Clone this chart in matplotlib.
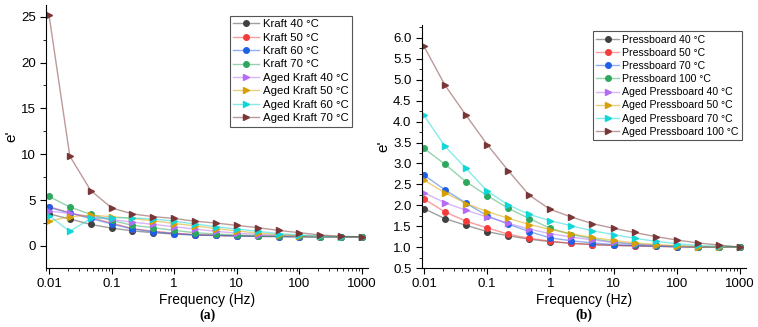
import matplotlib
matplotlib.use("Agg")
import matplotlib.pyplot as plt
from matplotlib.colors import to_rgba
from matplotlib.ticker import (MultipleLocator, LogLocator, NullFormatter, FixedLocator,
                               FixedFormatter, FormatStrFormatter)
import numpy as np

plt.rcParams.update({"font.family": ["Liberation Sans", "DejaVu Sans"], "font.size": 9})

freq = [0.01, 0.0215, 0.0464, 0.1, 0.215, 0.464, 1, 2.15, 4.64, 10, 21.5, 46.4, 100, 215, 464, 1000]

# panel (a): kraft paper
kraft_labels = ["Kraft 40 °C", "Kraft 50 °C", "Kraft 60 °C", "Kraft 70 °C",
                "Aged Kraft 40 °C", "Aged Kraft 50 °C", "Aged Kraft 60 °C", "Aged Kraft 70 °C"]
kraft_40 = [3.5, 2.95, 2.35, 1.95, 1.65, 1.45, 1.3, 1.2, 1.15, 1.1, 1.05, 1.05, 1.0, 1.0, 1.0, 1.0]
kraft_50 = [4.3, 3.6, 3.1, 2.5, 1.9, 1.6, 1.4, 1.25, 1.15, 1.1, 1.05, 1.03, 1.02, 1.0, 1.0, 1.0]
kraft_60 = [4.2, 3.6, 3.0, 2.4, 1.85, 1.55, 1.35, 1.2, 1.15, 1.1, 1.05, 1.03, 1.02, 1.0, 1.0, 1.0]
kraft_70 = [5.4, 4.25, 3.45, 2.8, 2.25, 2.0, 1.7, 1.45, 1.3, 1.2, 1.1, 1.05, 1.05, 1.0, 1.0, 1.0]
aged_kraft_40 = [3.8, 3.55, 3.2, 2.9, 2.6, 2.35, 2.1, 1.85, 1.6, 1.4, 1.25, 1.15, 1.1, 1.05, 1.0, 1.0]
aged_kraft_50 = [2.7, 3.2, 3.35, 3.2, 3.0, 2.75, 2.45, 2.2, 1.9, 1.65, 1.4, 1.25, 1.12, 1.05, 1.0, 1.0]
aged_kraft_60 = [3.3, 1.6, 3.0, 3.1, 3.05, 2.95, 2.7, 2.4, 2.1, 1.85, 1.6, 1.35, 1.2, 1.08, 1.02, 1.0]
aged_kraft_70 = [25.2, 9.8, 6.05, 4.15, 3.5, 3.2, 3.0, 2.7, 2.5, 2.25, 2.0, 1.7, 1.45, 1.2, 1.05, 1.0]

# panel (b): pressboard
pb_labels = ["Pressboard 40 °C", "Pressboard 50 °C", "Pressboard 70 °C", "Pressboard 100 °C",
             "Aged Pressboard 40 °C", "Aged Pressboard 50 °C", "Aged Pressboard 70 °C", "Aged Pressboard 100 °C"]
pb_40 = [1.92, 1.68, 1.52, 1.37, 1.27, 1.19, 1.13, 1.09, 1.06, 1.04, 1.03, 1.02, 1.01, 1.0, 1.0, 1.0]
pb_50 = [2.15, 1.84, 1.62, 1.46, 1.31, 1.21, 1.14, 1.09, 1.06, 1.04, 1.03, 1.02, 1.01, 1.0, 1.0, 1.0]
pb_70 = [2.72, 2.37, 2.05, 1.75, 1.55, 1.37, 1.22, 1.15, 1.1, 1.06, 1.04, 1.02, 1.01, 1.0, 1.0, 1.0]
pb_100 = [3.36, 2.98, 2.56, 2.23, 1.93, 1.68, 1.45, 1.3, 1.2, 1.12, 1.07, 1.04, 1.02, 1.01, 1.0, 1.0]
aged_pb_40 = [2.3, 2.06, 1.88, 1.72, 1.57, 1.43, 1.32, 1.24, 1.17, 1.11, 1.07, 1.04, 1.02, 1.01, 1.0, 1.0]
aged_pb_50 = [2.6, 2.3, 2.04, 1.85, 1.69, 1.54, 1.42, 1.32, 1.23, 1.16, 1.1, 1.06, 1.03, 1.01, 1.0, 1.0]
aged_pb_70 = [4.15, 3.41, 2.88, 2.34, 2.01, 1.78, 1.63, 1.51, 1.39, 1.3, 1.21, 1.14, 1.08, 1.04, 1.02, 1.0]
aged_pb_100 = [5.8, 4.87, 4.15, 3.45, 2.83, 2.24, 1.9, 1.72, 1.56, 1.45, 1.35, 1.25, 1.17, 1.1, 1.05, 1.0]

COLORS = ["#404040", "#f53b3b", "#1f60e6", "#2ea85e", "#b46cf5", "#d6a000", "#10d6d6", "#7a3636"]
MARKERS = ["o"] * 4 + [">"] * 4


def panel(ax, series, labels, ylim, major, minor, legend_anchor, legend_size, handle_len):
    for vals, lab, c, m in zip(series, labels, COLORS, MARKERS):
        # light line, solid marker (Origin look)
        ax.plot(freq, vals, color=to_rgba(c, 0.5), lw=1.0, marker=m, ms=4.0,
                markerfacecolor=c, markeredgecolor=c, label=lab)
    ax.set_xscale("log")
    ax.set_ylim(*ylim)
    ax.yaxis.set_major_locator(MultipleLocator(major))
    ax.yaxis.set_minor_locator(MultipleLocator(minor))
    ax.xaxis.set_major_locator(FixedLocator([0.01, 0.1, 1, 10, 100, 1000]))
    ax.xaxis.set_major_formatter(FixedFormatter(["0.01", "0.1", "1", "10", "100", "1000"]))
    ax.xaxis.set_minor_locator(LogLocator(base=10, subs=np.arange(2, 10)))
    ax.xaxis.set_minor_formatter(NullFormatter())
    for s in ("top", "right"):
        ax.spines[s].set_visible(False)
    ax.tick_params(which="major", length=4, width=0.8, labelsize=9.5)
    ax.tick_params(which="minor", length=2.2, width=0.6)
    ax.set_xlabel("Frequency (Hz)", fontsize=10, labelpad=2)
    ax.set_ylabel("e'", fontsize=11, labelpad=2)
    leg = ax.legend(loc="upper right", bbox_to_anchor=legend_anchor, fontsize=legend_size,
                    handlelength=handle_len, handletextpad=0.3, labelspacing=0.3,
                    borderpad=0.3, borderaxespad=0, fancybox=False, framealpha=1)
    leg.get_frame().set_edgecolor("#555555")
    leg.get_frame().set_linewidth(0.8)


fig = plt.figure(figsize=(7.58, 3.27), dpi=100)
ax1 = fig.add_axes([0.0607, 0.1804, 0.4248, 0.805])
ax2 = fig.add_axes([0.5567, 0.1804, 0.4273, 0.742])

panel(ax1, [kraft_40, kraft_50, kraft_60, kraft_70,
            aged_kraft_40, aged_kraft_50, aged_kraft_60, aged_kraft_70],
      kraft_labels, (-2.4, 26.3), 5, 2.5, (0.95, 0.958), 8.2, 2.3)
ax1.set_xlim(0.00896, 1247)

panel(ax2, [pb_40, pb_50, pb_70, pb_100,
            aged_pb_40, aged_pb_50, aged_pb_70, aged_pb_100],
      pb_labels, (0.5, 6.3), 0.5, 0.25, (0.988, 0.975), 7.6, 2.2)
ax2.set_xlim(0.0093, 1244)
ax2.yaxis.set_major_formatter(FormatStrFormatter("%.1f"))

fig.text(0.2735, 0.025, "(a)", ha="center", fontsize=10, fontweight="bold",
         family=["Liberation Serif", "DejaVu Serif"])
fig.text(0.7705, 0.025, "(b)", ha="center", fontsize=10, fontweight="bold",
         family=["Liberation Serif", "DejaVu Serif"])

fig.savefig("out.png", dpi=100)
